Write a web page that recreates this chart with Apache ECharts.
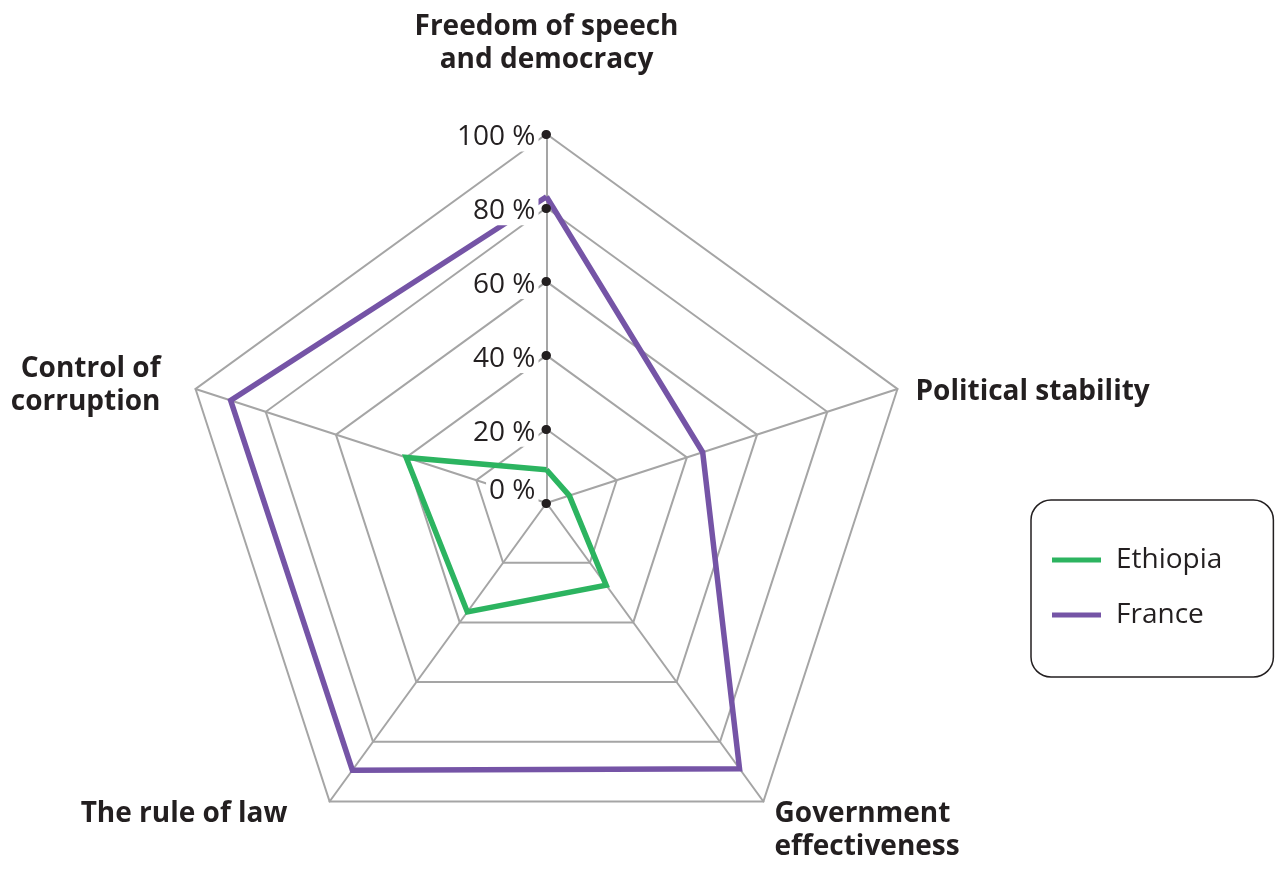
<!DOCTYPE html>
<html>
<head>
<meta charset="utf-8">
<style>
  html, body { margin: 0; padding: 0; background: #ffffff; }
  #chart { width: 1276px; height: 869px; }
</style>
<script src="https://cdn.jsdelivr.net/npm/echarts@6/dist/echarts.min.js"></script>
</head>
<body>
<div id="chart"></div>
<script>
// ---- data (natural clockwise order, starting at the top) ----
const indicatorNames = [
  'Freedom of speech\nand democracy',
  'Political stability',
  'Government\neffectiveness',
  'The rule of law',
  'Control of\ncorruption'
];
const seriesNames = ['Ethiopia', 'France'];
const ethiopiaValues = [9, 6.5, 27.5, 36.5, 40];
const franceValues = [83, 44.5, 89, 89.5, 90];
const tickLabels = ['0 %', '20 %', '40 %', '60 %', '80 %', '100 %'];
const axisMin = 0;
const axisMax = 100;

// ECharts lays indicators out counter-clockwise; reorder to draw them clockwise
const drawOrder = [0, 4, 3, 2, 1];
const reorder = arr => drawOrder.map(i => arr[i]);

// ---- styles ----
const GREEN = '#2cb460';
const PURPLE = '#7554a6';
const GRAY = '#a5a5a5';
const INK = '#231f20';
const CENTER = [546.5, 503];
const RADIUS = 369;

// per-indicator label nudges: spacer line above / below, trailing / leading width
const nameNudge = [
  { top: 0, bottom: 38, right: 0, left: 0 },
  { top: 18, bottom: 0, right: 0, left: 0 },
  { top: 28, bottom: 0, right: 0, left: 0 },
  { top: 0, bottom: 6, right: 31, left: 0 },
  { top: 4, bottom: 0, right: 17, left: 0 }
];

function nameRich(name) {
  const idx = indicatorNames.indexOf(name);
  const nd = nameNudge[idx] || { top: 0, bottom: 0, right: 0, left: 0 };
  const lines = name.split('\n').map(l => {
    let s = '';
    if (nd.left) s += '{h' + nd.left + '|\u00a0}';
    s += '{n|' + l + '}';
    if (nd.right) s += '{h' + nd.right + '|\u00a0}';
    return s;
  });
  if (nd.top) lines.unshift('{v' + nd.top + '|\u00a0}');
  if (nd.bottom) lines.push('{v' + nd.bottom + '|\u00a0}');
  return lines.join('\n');
}

const rich = {
  n: { color: INK, fontFamily: 'Open Sans', fontWeight: 'bold', fontSize: 28, lineHeight: 33 }
};
nameNudge.forEach(nd => {
  [nd.top, nd.bottom].forEach(v => { if (v) rich['v' + v] = { fontSize: 2, lineHeight: v }; });
  [nd.left, nd.right].forEach(w => { if (w) rich['h' + w] = { fontSize: 2, width: w, lineHeight: 2 }; });
});

function tickLabel(v) {
  const txt = tickLabels[Math.round((v - axisMin) / 20)];
  if (v === axisMin) return '{a|' + txt + '}\n{s0|\u00a0}';
  return '{s|\u00a0}\n{a|' + txt + '}';
}

const chart = echarts.init(document.getElementById('chart'), null, { renderer: 'canvas' });

const option = {
  animation: false,
  backgroundColor: '#ffffff',
  legend: {
    orient: 'vertical',
    left: 1031,
    top: 500,
    padding: [45, 51, 47, 21],
    itemGap: 25,
    itemWidth: 49,
    itemHeight: 5,
    icon: 'rect',
    borderColor: INK,
    borderWidth: 1.5,
    borderRadius: 20,
    data: seriesNames,
    textStyle: {
      color: INK,
      fontFamily: 'Open Sans',
      fontSize: 28,
      lineHeight: 30,
      padding: [0, 0, 0, 10]
    }
  },
  radar: [
    {
      center: CENTER,
      radius: RADIUS,
      startAngle: 90,
      shape: 'polygon',
      splitNumber: 5,
      z: 0,
      axisNameGap: 19,
      indicator: reorder(indicatorNames).map(n => ({ name: n, min: axisMin, max: axisMax })),
      axisName: {
        color: INK,
        fontFamily: 'Open Sans',
        fontWeight: 'bold',
        fontSize: 28,
        lineHeight: 33,
        formatter: nameRich,
        rich: rich
      },
      splitLine: { lineStyle: { color: GRAY, width: 2 } },
      splitArea: { show: false },
      axisLine: { lineStyle: { color: GRAY, width: 2 } },
      axisTick: { show: false },
      axisLabel: { show: false }
    },
    {
      center: CENTER,
      radius: RADIUS,
      startAngle: 90,
      shape: 'polygon',
      splitNumber: 5,
      z: 5,
      indicator: indicatorNames.map((n, i) => i === 0
        ? { name: '', min: axisMin, max: axisMax, axisLabel: { show: true }, axisTick: { show: true } }
        : { name: '', min: axisMin, max: axisMax }),
      axisName: { show: false },
      splitLine: { show: false },
      splitArea: { show: false },
      axisLine: { show: false },
      axisTick: {
        show: false,
        length: 0.5,
        lineStyle: { color: INK, width: 9, cap: 'round' }
      },
      axisLabel: {
        show: false,
        margin: 8,
        color: INK,
        fontFamily: 'Open Sans',
        fontSize: 28,
        formatter: tickLabel,
        rich: {
          a: {
            color: INK, fontFamily: 'Open Sans', fontSize: 28, lineHeight: 30,
            backgroundColor: '#ffffff', padding: [0, 3, 0, 3]
          },
          s: { fontSize: 2, lineHeight: 7 },
          s0: { fontSize: 2, lineHeight: 24 }
        }
      }
    }
  ],
  series: [
    {
      type: 'radar',
      radarIndex: 0,
      z: 2,
      symbol: 'none',
      data: [
        {
          name: seriesNames[0],
          value: reorder(ethiopiaValues),
          itemStyle: { color: GREEN },
          lineStyle: { color: GREEN, width: 5.5, join: 'miter' }
        },
        {
          name: seriesNames[1],
          value: reorder(franceValues),
          itemStyle: { color: PURPLE },
          lineStyle: { color: PURPLE, width: 5.5, join: 'miter' }
        }
      ]
    }
  ]
};

chart.setOption(option);
</script>
</body>
</html>
